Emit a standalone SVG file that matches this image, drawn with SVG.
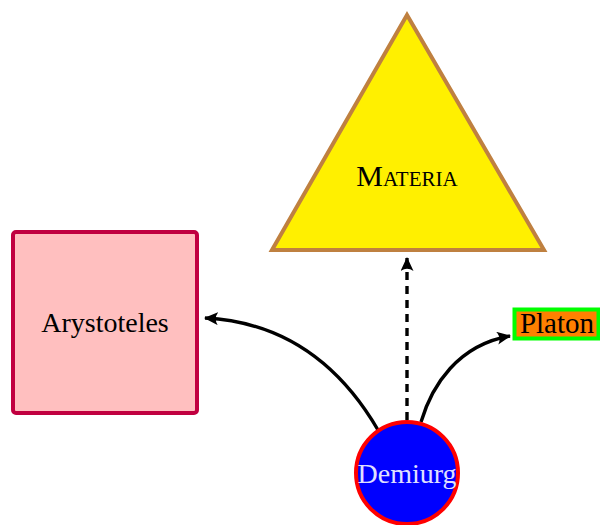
<svg xmlns="http://www.w3.org/2000/svg" width="600" height="525" viewBox="0 0 600 525">
<style>
.lbl{font-family:"Liberation Serif","Times New Roman",serif;font-size:28px;text-anchor:middle;dominant-baseline:central}
.edge{fill:none;stroke:#000;stroke-width:3.4}
</style>
<defs>
<marker id="ah" markerWidth="15" markerHeight="13" refX="13" refY="6.5" orient="auto" markerUnits="userSpaceOnUse">
<path d="M0,0 Q4.5,6.5 0,13 L14,6.5 Z" fill="#000"/>
</marker>
</defs>
<g id="materia">
<polygon points="407,15 272,250 544,250" fill="#FFF000" stroke="#BF8040" stroke-width="4" stroke-linejoin="miter"/>
<text class="lbl" x="407" y="175" style="font-variant:small-caps;font-size:30px">Materia</text>
</g>
<g id="arystoteles">
<rect x="13" y="232" width="184" height="181" rx="3" fill="#FFBFBF" stroke="#C00040" stroke-width="4"/>
<text class="lbl" x="105" y="322">Arystoteles</text>
</g>
<g id="platon">
<rect x="514.5" y="309.5" width="84" height="29" fill="#FF8000" stroke="#00FF00" stroke-width="4"/>
<text class="lbl" x="557" y="323" style="font-size:29px">Platon</text>
</g>
<g id="connectors">
<path class="edge" d="M407,420 L407,258" stroke-dasharray="8,6" marker-end="url(#ah)"/>
<path class="edge" d="M378,430 C340,365 285,322 205,318" marker-end="url(#ah)"/>
<path class="edge" d="M421,422 C432,385 458,345 510,336" marker-end="url(#ah)"/>
</g>
<g id="demiurg">
<circle cx="407" cy="473" r="51" fill="#0000FF" stroke="#FF0000" stroke-width="4"/>
<text class="lbl" x="407" y="473" fill="#E0E0FF">Demiurg</text>
</g>
</svg>
